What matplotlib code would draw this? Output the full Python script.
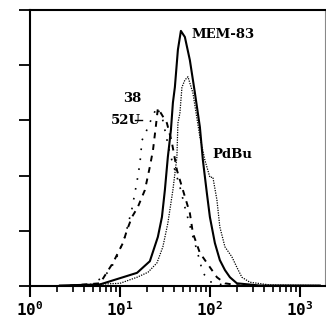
import matplotlib
matplotlib.use("Agg")
import matplotlib.pyplot as plt
from matplotlib.ticker import FixedLocator, NullFormatter

plt.rcParams['mathtext.fontset'] = 'custom'
plt.rcParams['mathtext.rm'] = 'DejaVu Sans Mono:bold'
plt.rcParams['mathtext.default'] = 'rm'

# MEM-83 (solid)
mem_x = [2.15, 6.0, 10.8, 15.5, 21.5, 26.4, 29.3, 31.6, 34.1, 36.9, 38.8, 40.8, 44.1,
         47.6, 52.7, 59.9, 68.1, 77.4, 83.6, 92.6, 100, 113.6, 129, 147, 167, 199.5, 359, 1668]
mem_y = [0.01, 0.03, 0.16, 0.24, 0.45, 0.89, 1.25, 1.74, 2.34, 2.83, 3.32, 3.6, 4.28,
         4.62, 4.51, 4.09, 3.5, 2.88, 2.28, 1.68, 1.25, 0.78, 0.47, 0.29, 0.16, 0.05, 0.01, 0.01]

# PdBu (dotted)
pdbu_x = [3.6, 10, 15.5, 20.5, 25.8, 30.0, 34.1, 38.8, 43.0, 44.1, 46.4, 48.9, 52.7, 57.0,
          64.7, 77.4, 88.0, 100, 108, 119.7, 129, 147, 175.5, 199.5, 226.8, 278, 464, 1668]
pdbu_y = [0.02, 0.05, 0.16, 0.25, 0.42, 0.71, 1.14, 1.74, 2.34, 2.95, 3.13, 3.6, 3.73, 3.79,
          3.5, 2.7, 2.28, 1.97, 1.97, 1.56, 1.07, 0.71, 0.53, 0.34, 0.16, 0.07, 0.02, 0.01]

# 38 (dashed)
c38_x = [2.78, 6.0, 7.17, 8.36, 9.5, 10.8, 11.96, 13.6, 15.8, 18.95, 21.5, 23.3, 25.1, 26.4,
         29.3, 33.3, 37.8, 43.0, 50.1, 59.9, 64.7, 77.4, 92.6, 119.7, 147, 215]
c38_y = [0.01, 0.05, 0.25, 0.42, 0.6, 0.78, 1.01, 1.25, 1.43, 1.74, 2.16, 2.46, 2.9, 3.22,
         3.1, 2.95, 2.6, 2.1, 1.74, 1.32, 0.96, 0.6, 0.42, 0.16, 0.05, 0.01]

# 52U (sparse dotted)
c52_x = [4.64, 6.47, 7.74, 9.26, 11.4, 13.6, 15.5, 16.7, 17.6, 19.95, 22.7, 25.8, 30.0,
         35.9, 46.4, 52.7, 63.1, 71.7, 83.6, 100, 147]
c52_y = [0.02, 0.16, 0.29, 0.53, 0.9, 1.4, 1.9, 2.23, 2.64, 2.83, 3.05, 3.24, 3.0,
         2.4, 1.8, 1.43, 0.96, 0.65, 0.24, 0.08, 0.01]

xtick_vals = [1, 10, 100, 1000]
xtick_labels = ['$10^{0}$', '$10^{1}$', '$10^{2}$', '$10^{3}$']
ytick_vals = [0, 1, 2, 3, 4, 5]

fig = plt.figure(figsize=(3.26, 3.20), dpi=100)
ax = fig.add_axes([0.092, 0.106, 0.905, 0.863])

ax.plot(c52_x, c52_y, color='black', lw=1.2, linestyle=(0, (1, 5)))
ax.plot(c38_x, c38_y, color='black', lw=1.4, linestyle=(0, (3, 3)))
ax.plot(pdbu_x, pdbu_y, color='black', lw=0.9, linestyle=(0, (1, 1)))
ax.plot(mem_x, mem_y, color='black', lw=1.5)

ax.set_xscale('log')
ax.set_xlim(1, 10 ** 3.28)
ax.set_ylim(0, 5)

ax.set_xticks(xtick_vals)
ax.set_xticklabels(xtick_labels, fontsize=11.5)
ax.xaxis.set_minor_locator(FixedLocator(
    [m * d for d in (1, 10, 100, 1000) for m in range(2, 10) if m * d < 10 ** 3.28]))
ax.xaxis.set_minor_formatter(NullFormatter())
ax.tick_params(axis='x', which='major', direction='out', length=8, width=1.5, pad=2)
ax.tick_params(axis='x', which='minor', direction='out', length=4, width=1.2)
ax.set_yticks(ytick_vals)
ax.set_yticklabels([])
ax.tick_params(axis='y', which='major', direction='out', length=8, width=1.3)

for s in ['left', 'bottom', 'top']:
    ax.spines[s].set_linewidth(1.5)
ax.spines['right'].set_linewidth(0.8)
ax.spines['right'].set_color('#888888')

lab = dict(fontsize=9.5, fontweight='bold', family='DejaVu Serif', color='black')
ax.text(10 ** 1.79, 4.55, 'MEM-83', ha='left', va='center', **lab)
ax.text(10 ** 2.03, 2.39, 'PdBu', ha='left', va='center', **lab)
ax.text(10 ** 1.14, 3.39, '38', ha='center', va='center', **lab)
ax.text(10 ** 1.07, 3.0, '52U', ha='center', va='center', **lab)
ax.plot([10 ** 1.17, 10 ** 1.24], [3.0, 3.0], color='black', lw=1)

fig.savefig('out.png', dpi=100)
